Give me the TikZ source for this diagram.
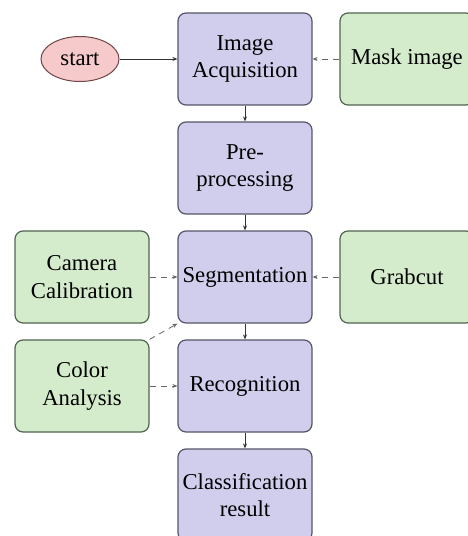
\documentclass[tikz,border=0pt]{standalone}
\usepackage{fontspec}
\setmainfont{Liberation Serif}
\usetikzlibrary{arrows.meta,shapes.geometric}
\definecolor{procfill}{RGB}{208,206,236}
\definecolor{procdraw}{RGB}{85,85,105}
\definecolor{auxfill}{RGB}{213,236,204}
\definecolor{auxdraw}{RGB}{80,100,80}
\definecolor{startfill}{RGB}{246,201,203}
\definecolor{startdraw}{RGB}{110,70,70}
\tikzset{
  proc/.style={draw=procdraw, fill=procfill, line width=1.2pt, rounded corners=8pt,
    minimum width=134pt, minimum height=92pt, align=center, inner sep=0pt,
    font=\fontsize{22.7}{27.5}\selectfont},
  aux/.style={proc, draw=auxdraw, fill=auxfill},
  startnode/.style={draw=startdraw, fill=startfill, line width=1pt, ellipse,
    minimum width=78pt, minimum height=45pt, inner sep=0pt,
    font=\fontsize{22.7}{27.5}\selectfont},
  flow/.style={draw=black!80, line width=0.8pt, -{Stealth[length=5pt,width=4pt]}},
  dflow/.style={flow, draw=black!60, dashed, dash pattern=on 6pt off 5pt}
}
\begin{document}
\begin{tikzpicture}[x=1pt,y=-1pt]
\useasboundingbox (0,0) rectangle (467,536);
\node[proc] (acq) at (245,59) {Image\\Acquisition};
\node[proc] (pre) at (245,168) {Pre-\\processing};
\node[proc] (seg) at (245,277) {Segmentation};
\node[proc] (rec) at (245,386) {Recognition};
\node[proc] (cls) at (245,495) {Classification\\result};
\node[aux] (mask) at (407,59) {Mask image};
\node[aux] (grab) at (407,277) {Grabcut};
\node[aux] (cam) at (82,277) {Camera\\Calibration};
\node[aux] (col) at (82,386) {Color\\Analysis};
\node[startnode] (start) at (80,59) {start};
\draw[flow] (start) -- (acq);
\draw[dflow] (mask) -- (acq);
\draw[flow] (acq) -- (pre);
\draw[flow] (pre) -- (seg);
\draw[flow] (seg) -- (rec);
\draw[flow] (rec) -- (cls);
\draw[dflow] (grab) -- (seg);
\draw[dflow] (cam) -- (seg);
\draw[dflow] (col) -- (rec);
\draw[dflow] (col.north east) -- (seg.south west);
\end{tikzpicture}
\end{document}
